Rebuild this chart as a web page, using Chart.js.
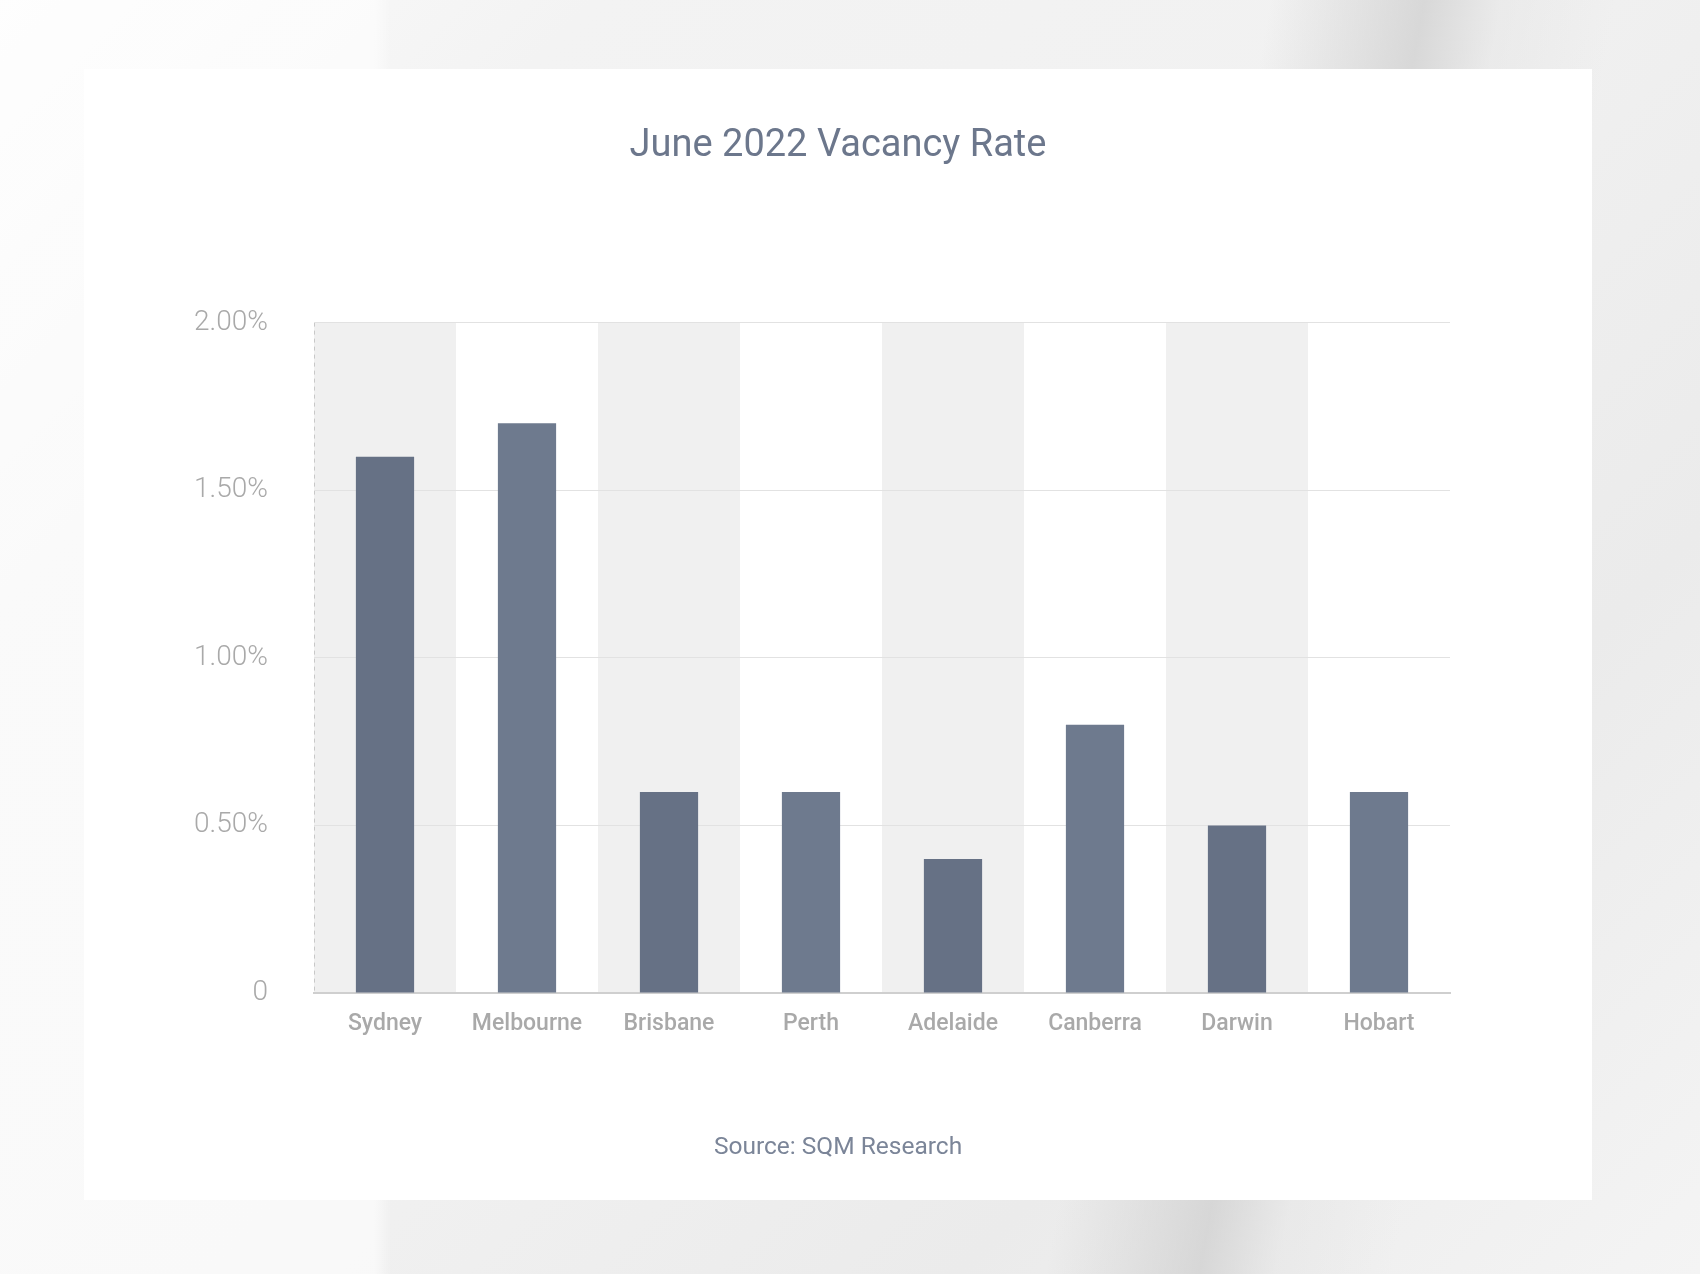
<!DOCTYPE html>
<html>
<head>
<meta charset="utf-8">
<title>June 2022 Vacancy Rate</title>
<script src="https://cdn.jsdelivr.net/npm/chart.js@4.4.0/dist/chart.umd.min.js"></script>
<style>
  html, body { margin: 0; padding: 0; }
  body {
    width: 1700px; height: 1274px; position: relative; overflow: hidden;
    background:
      linear-gradient(100deg, rgba(255,255,255,0) 66%, rgba(205,205,205,0.7) 74%, rgba(225,225,225,0.4) 78%, rgba(255,255,255,0) 84%),
      linear-gradient(90deg, rgba(255,255,255,0.6) 0%, rgba(255,255,255,0.6) 22%, rgba(255,255,255,0) 23%),
      linear-gradient(135deg, #fcfcfc 0%, #f3f3f3 20%, #f1f1f1 50%, #ebebeb 75%, #f4f4f4 100%);
    font-family: Roboto, "Noto Sans", sans-serif;
  }
  #card {
    position: absolute; left: 84px; top: 69px; width: 1508px; height: 1131px;
    background: #ffffff;
  }
</style>
</head>
<body>
<div id="card"><canvas id="vacancyChart"></canvas></div>
<script>
const cities = ['Sydney', 'Melbourne', 'Brisbane', 'Perth', 'Adelaide', 'Canberra', 'Darwin', 'Hobart'];
const vacancyRates = [1.6, 1.7, 0.6, 0.6, 0.4, 0.8, 0.5, 0.6];
const yTickValues = [0, 0.5, 1, 1.5, 2];
const yTickLabels = ['0', '0.50%', '1.00%', '1.50%', '2.00%'];

// alternating grey column bands behind the bars
const bandPlugin = {
    id: 'bands',
    beforeDraw(chart) {
        const ctx = chart.ctx;
        const area = chart.chartArea;
        const x = chart.scales.x;
        const w = (area.right - area.left) / cities.length;
        ctx.save();
        ctx.fillStyle = '#f0f0f0';
        cities.forEach((c, i) => {
            if (i % 2 === 0) {
                const cx = x.getPixelForValue(i);
                ctx.fillRect(cx - w / 2, area.top, w, area.bottom - area.top);
            }
        });
        ctx.restore();
    }
};

const chart = new Chart(document.getElementById('vacancyChart'), {
    type: 'bar',
    data: {
        labels: cities,
        datasets: [{
            data: vacancyRates,
            backgroundColor: cities.map((c, i) => i % 2 === 0 ? '#667185' : '#6e7a8e'),
            barPercentage: 0.41,
            categoryPercentage: 1
        }]
    },
    options: {
        responsive: true,
        maintainAspectRatio: false,
        animation: false,
        layout: { padding: 0 },
        plugins: {
            legend: { display: false },
            tooltip: { enabled: false },
            title: {
                display: true,
                text: 'June 2022 Vacancy Rate',
                color: '#6c778c',
                font: { family: 'Roboto', size: 38, weight: '400' },
                padding: { top: 55, bottom: 153 }
            },
            subtitle: {
                display: true,
                position: 'bottom',
                text: 'Source: SQM Research',
                color: '#7b8598',
                font: { family: 'Roboto', size: 24.5, weight: '400' },
                padding: { top: 79, bottom: 37 }
            }
        },
        scales: {
            x: {
                grid: {
                    drawTicks: false,
                    lineWidth: 1,
                    color: ctx => (ctx.index === 0 || ctx.index === cities.length) ? '#c8c8c8' : 'rgba(0,0,0,0)'
                },
                border: { display: true, color: '#cfcfcf', width: 2, dash: [4, 4] },
                ticks: {
                    color: '#a9a9a9',
                    padding: 17,
                    font: { family: 'Roboto', size: 23, weight: '500' }
                }
            },
            y: {
                min: 0,
                max: 2,
                afterFit: s => { s.width = 230; },
                afterBuildTicks: s => { s.ticks = yTickValues.map(v => ({ value: v })); },
                grid: { color: '#e2e2e2', lineWidth: 1, drawTicks: false },
                border: { display: false },
                ticks: {
                    color: '#a9a9a9',
                    padding: 46,
                    font: { family: 'Roboto', size: 28, weight: '300' },
                    callback: (v) => yTickLabels[yTickValues.indexOf(v)]
                }
            },
            // empty right-hand gutter so the plot ends where the reference does
            gutter: {
                type: 'linear',
                position: 'right',
                display: true,
                afterFit: s => { s.width = 142; },
                grid: { display: false, drawTicks: false },
                border: { display: false },
                ticks: { display: false }
            }
        }
    },
    plugins: [bandPlugin]
});
</script>
</body>
</html>
